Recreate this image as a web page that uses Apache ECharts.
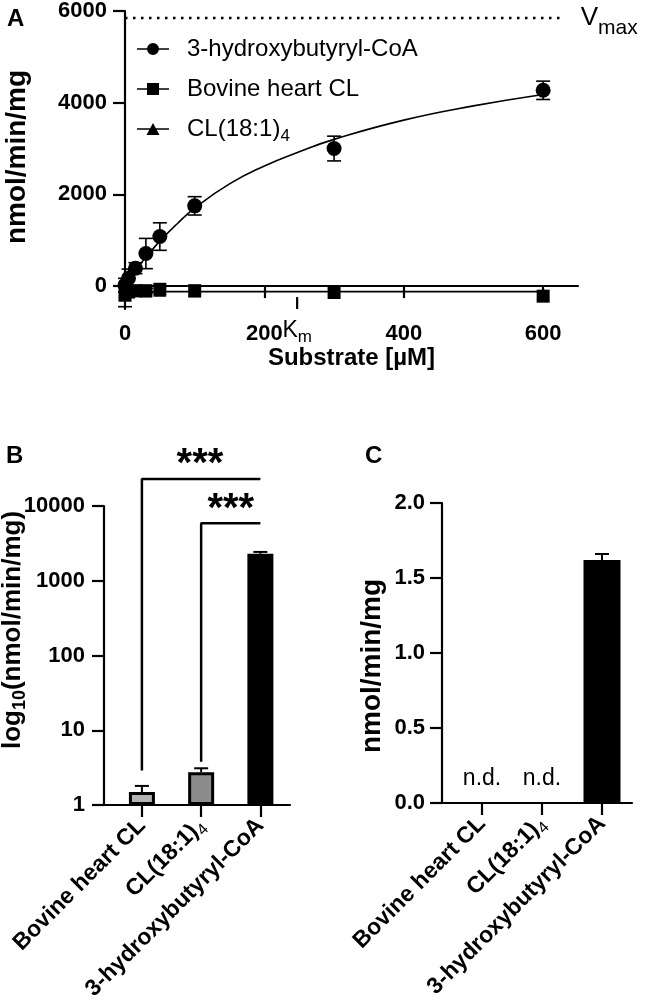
<!DOCTYPE html>
<html><head><meta charset="utf-8">
<script src="https://cdn.jsdelivr.net/npm/echarts@6/dist/echarts.min.js"></script>
<style>html,body{margin:0;padding:0;background:#fff}#c{width:645px;height:1005px}</style>
</head><body><div id="c"></div>
<script>
// ---------- Panel A data ----------
const substrateHB = [0, 5, 15, 30, 50, 100, 300, 600];
const rateHB      = [20, 170, 390, 710, 1080, 1750, 3000, 4270];
const errHB       = [150, 200, 120, 330, 300, 200, 270, 200];
const substrateBH = [0, 5, 15, 30, 50, 100, 300, 600];
const rateBH      = [-200, -130, -100, -100, -70, -100, -130, -220];
const errBH       = [250, 100, 50, 50, 0, 0, 0, 0];
const substrateCL = [0, 5, 15, 30, 50, 100, 300, 600];
const rateCL      = [-120, -100, -100, -110, -90, -110, -140, -170];
const fitHBx = [0, 10, 20, 30, 50, 75, 100, 150, 200, 250, 300, 400, 500, 600];
const fitHBy = [0, 230, 440, 630, 980, 1360, 1700, 2230, 2620, 2930, 3200, 3620, 3930, 4180];
const fitBHx = [0, 600];
const fitBHy = [-120, -120];
const vmaxValue = 5850;
const vmaxEndX = 628;
const kmValue = 247;
const xTicksA = [0, 200, 400, 600];
const yTicksA = [0, 2000, 4000, 6000];
const seriesNamesA = ['3-hydroxybutyryl-CoA', 'Bovine heart CL', 'CL(18:1)4'];

// ---------- Panel B / C data ----------
const categories = ['Bovine heart CL', 'CL(18:1)4', '3-hydroxybutyryl-CoA'];
const catPos = [1, 2, 3];
const logRate = [1.49, 2.75, 2290];
const logErr  = [0.31, 0.35, 140];
const sigBrackets = [ {from: 1, to: 3, low: 2.9, y: 22900}, {from: 2, to: 3, low: 3.8, y: 5900} ];
const sigStars = [ [1.98, 45000], [2.5, 11300] ];
const linRate = [0, 0, 1.62];
const linErr  = [0, 0, 0.04];
const ndPos = [[1, 0.16], [2, 0.16]];

const FONT = 'Liberation Sans, Arial, sans-serif';
const BLACK = '#000';

function catLabel(v) {
  const i = Math.round(v) - 1;
  const name = categories[i];
  if (name === 'CL(18:1)4') return '{b|CL(18:1)}{s|4}';
  return '{b|' + name + '}';
}
const catRich = {
  b: {fontFamily: FONT, fontWeight: 'bold', fontSize: 23, color: BLACK},
  s: {fontFamily: FONT, fontWeight: 'normal', fontSize: 16, color: BLACK, verticalAlign: 'bottom', padding: [14, 0, 0, 0]}
};

function errBothRender(params, api) {
  const x = api.value(0), y = api.value(1), e = api.value(2);
  if (!e) return null;
  const t = api.coord([x, y + e]), b = api.coord([x, y - e]);
  const w = 7, st = {stroke: BLACK, lineWidth: 1.6};
  return {type: 'group', children: [
    {type: 'line', shape: {x1: t[0], y1: t[1], x2: b[0], y2: b[1]}, style: st},
    {type: 'line', shape: {x1: t[0]-w, y1: t[1], x2: t[0]+w, y2: t[1]}, style: st},
    {type: 'line', shape: {x1: b[0]-w, y1: b[1], x2: b[0]+w, y2: b[1]}, style: st}
  ]};
}
function errUpRender(params, api) {
  const x = api.value(0), y = api.value(1), e = api.value(2);
  if (!e) return null;
  const t = api.coord([x, y + e]), b = api.coord([x, y]);
  const w = 7, st = {stroke: BLACK, lineWidth: 2};
  return {type: 'group', children: [
    {type: 'line', shape: {x1: t[0], y1: t[1], x2: b[0], y2: b[1]}, style: st},
    {type: 'line', shape: {x1: t[0]-w, y1: t[1], x2: t[0]+w, y2: t[1]}, style: st}
  ]};
}

const zip = (a, b) => a.map((v, i) => [v, b[i]]);
const zip3 = (a, b, c) => a.map((v, i) => [v, b[i], c[i]]);

const axisLineStyle = {lineStyle: {color: BLACK, width: 2.2}};
const tickStyle = {show: true, length: 12, lineStyle: {color: BLACK, width: 2.2}};
const labelStyle = {fontFamily: FONT, fontWeight: 'bold', fontSize: 22, color: BLACK, formatter: v => String(v)};

const iconCircle = 'path://M0,5.3 L32,5.3 L32,6.7 L0,6.7 Z M16,0 A6,6 0 1,1 16,12 A6,6 0 1,1 16,0 Z';
const iconSquare = 'path://M0,5.3 L32,5.3 L32,6.7 L0,6.7 Z M10,0 L22,0 L22,12 L10,12 Z';
const iconTri = 'path://M0,5.3 L32,5.3 L32,6.7 L0,6.7 Z M16,0 L22.5,12 L9.5,12 Z';

const catBarColors = ['#b3b3b3', '#8c8c8c', '#000000'];
const solid = {color: BLACK, opacity: 1};

function yNameRich(size) {
  return {
    a: {fontFamily: FONT, fontWeight: 'bold', fontSize: size, fill: BLACK, color: BLACK},
    s: {fontFamily: FONT, fontWeight: 'bold', fontSize: Math.round(size * 0.68), fill: BLACK, color: BLACK, verticalAlign: 'bottom', padding: [14, 0, 0, 0]}
  };
}
function yName(text, x, y, size) {
  return {type: 'text', x: x, y: y, rotation: Math.PI / 2, silent: true,
    style: {text: text, rich: yNameRich(size), align: 'center', verticalAlign: 'middle',
            fontFamily: FONT, fontWeight: 'bold', fontSize: size, fill: BLACK}};
}

const option = {
  animation: false,
  backgroundColor: '#fff',
  textStyle: {fontFamily: FONT},
  title: [
    {text: 'A', left: 2, top: 2, textStyle: {fontFamily: FONT, fontWeight: 'bold', fontSize: 24, color: BLACK}},
    {text: 'B', left: 1, top: 439, textStyle: {fontFamily: FONT, fontWeight: 'bold', fontSize: 24, color: BLACK}},
    {text: 'C', left: 360, top: 439, textStyle: {fontFamily: FONT, fontWeight: 'bold', fontSize: 24, color: BLACK}}
  ],
  graphic: [
    yName('{a|nmol/min/mg}', 17, 157, 28),
    yName('{a|log}{s|10}{a|(nmol/min/mg)}', 13, 630, 26),
    yName('{a|nmol/min/mg}', 372, 666, 28)
  ],
  legend: {
    orient: 'vertical', left: 132, top: 32, itemWidth: 32, itemHeight: 12, itemGap: 16,
    data: [
      {name: seriesNamesA[0], icon: iconCircle},
      {name: seriesNamesA[1], icon: iconSquare},
      {name: seriesNamesA[2], icon: iconTri}
    ],
    itemStyle: {color: BLACK, opacity: 1},
    formatter: n => n === 'CL(18:1)4' ? '{a|CL(18:1)}{s|4}' : '{a|' + n + '}',
    textStyle: {padding: [0, 0, 0, 13], rich: {
      a: {fontFamily: FONT, fontSize: 24, color: BLACK},
      s: {fontFamily: FONT, fontSize: 17, color: BLACK, verticalAlign: 'bottom', padding: [15, 0, 0, 0]}
    }},
    selectedMode: false
  },
  grid: [
    {left: 125, top: 10, width: 453, height: 299},
    {left: 104, top: 506, width: 186, height: 299},
    {left: 442, top: 503, width: 190, height: 300}
  ],
  xAxis: [
    {gridIndex: 0, type: 'value', min: 0, max: 650,
     axisLine: axisLineStyle, axisTick: Object.assign({customValues: xTicksA}, tickStyle),
     axisLabel: Object.assign({}, labelStyle, {customValues: xTicksA, margin: 14}), splitLine: {show: false},
     name: 'Substrate [µM]', nameLocation: 'middle', nameGap: 30,
     nameTextStyle: {fontFamily: FONT, fontWeight: 'bold', fontSize: 24, color: BLACK}},
    {gridIndex: 1, type: 'value', min: 0.36, max: 3.5,
     axisLine: axisLineStyle, axisTick: Object.assign({customValues: catPos}, tickStyle),
     axisLabel: {customValues: catPos, rotate: 45, margin: 17, formatter: catLabel, rich: catRich},
     splitLine: {show: false}},
    {gridIndex: 2, type: 'value', min: 0.333, max: 3.5,
     axisLine: axisLineStyle, axisTick: Object.assign({customValues: catPos}, tickStyle),
     axisLabel: {customValues: catPos, rotate: 45, margin: 17, formatter: catLabel, rich: catRich},
     splitLine: {show: false}}
  ],
  yAxis: [
    {gridIndex: 0, type: 'value', min: -500, max: 6000,
     axisLine: axisLineStyle, axisTick: Object.assign({customValues: yTicksA}, tickStyle),
     axisLabel: Object.assign({}, labelStyle, {customValues: yTicksA, margin: 18}), splitLine: {show: false}},
    {gridIndex: 1, type: 'log', logBase: 10, min: 1, max: 10000,
     axisLine: axisLineStyle, axisTick: tickStyle,
     axisLabel: Object.assign({}, labelStyle, {margin: 19, formatter: v => String(Math.round(v))}),
     splitLine: {show: false}, minorTick: {show: false}},
    {gridIndex: 2, type: 'value', min: 0, max: 2, interval: 0.5,
     axisLine: axisLineStyle, axisTick: tickStyle,
     axisLabel: Object.assign({}, labelStyle, {margin: 17, formatter: v => v.toFixed(1)}), splitLine: {show: false}}
  ],
  series: [
    // ---- Panel A ----
    {type: 'line', name: 'vmax', xAxisIndex: 0, yAxisIndex: 0, symbol: 'none', silent: true,
     data: [[0, vmaxValue], [vmaxEndX, vmaxValue]],
     lineStyle: {color: BLACK, width: 2.5, type: [2.5, 5.5]},
     endLabel: {show: true, distance: 18, formatter: '{v|V}{s|max}', rich: {
       v: {fontFamily: FONT, fontSize: 26, color: BLACK},
       s: {fontFamily: FONT, fontSize: 21, color: BLACK, verticalAlign: 'bottom', padding: [20, 0, 0, 0]}
     }}},
    {type: 'line', name: 'kmTick', xAxisIndex: 0, yAxisIndex: 0, symbol: 'none', silent: true, clip: false,
     data: [[kmValue, -500], [kmValue, -240]], lineStyle: {color: BLACK, width: 2.2}},
    {type: 'scatter', name: 'kmLabel', xAxisIndex: 0, yAxisIndex: 0, symbolSize: 0, silent: true, clip: false,
     itemStyle: solid, data: [[kmValue, -500]],
     label: {show: true, position: 'bottom', distance: 6, formatter: '{k|K}{s|m}', rich: {
       k: {fontFamily: FONT, fontSize: 23, color: BLACK},
       s: {fontFamily: FONT, fontSize: 17, color: BLACK, verticalAlign: 'bottom', padding: [14, 0, 0, 0]}
     }}},
    {type: 'line', name: 'fitHB', xAxisIndex: 0, yAxisIndex: 0, symbol: 'none', smooth: true, silent: true,
     data: zip(fitHBx, fitHBy), lineStyle: {color: BLACK, width: 1.6}},
    {type: 'line', name: 'fitBH', xAxisIndex: 0, yAxisIndex: 0, symbol: 'none', silent: true,
     data: zip(fitBHx, fitBHy), lineStyle: {color: BLACK, width: 1.6}},
    {type: 'custom', name: 'errHB', xAxisIndex: 0, yAxisIndex: 0, renderItem: errBothRender, encode: {x: 0, y: 1},
     data: zip3(substrateHB, rateHB, errHB), silent: true},
    {type: 'custom', name: 'errBH', xAxisIndex: 0, yAxisIndex: 0, renderItem: errBothRender, encode: {x: 0, y: 1},
     data: zip3(substrateBH, rateBH, errBH), silent: true},
    {type: 'scatter', name: seriesNamesA[2], xAxisIndex: 0, yAxisIndex: 0, symbol: 'triangle', symbolSize: 13,
     itemStyle: solid, data: zip(substrateCL, rateCL), clip: false},
    {type: 'scatter', name: seriesNamesA[1], xAxisIndex: 0, yAxisIndex: 0, symbol: 'rect', symbolSize: 13,
     itemStyle: solid, data: zip(substrateBH, rateBH), clip: false},
    {type: 'scatter', name: seriesNamesA[0], xAxisIndex: 0, yAxisIndex: 0, symbol: 'circle', symbolSize: 15,
     itemStyle: solid, data: zip(substrateHB, rateHB), clip: false},

    // ---- Panel B ----
    {type: 'bar', name: 'logBars', xAxisIndex: 1, yAxisIndex: 1, barWidth: 26,
     data: catPos.map((p, i) => ({value: [p, logRate[i]], itemStyle: {color: catBarColors[i], borderColor: BLACK, borderWidth: 3}}))},
    {type: 'custom', name: 'logErr', xAxisIndex: 1, yAxisIndex: 1, renderItem: errUpRender, encode: {x: 0, y: 1},
     data: zip3(catPos, logRate, logErr), silent: true, z: 1},
    ...sigBrackets.map(b => ({type: 'line', xAxisIndex: 1, yAxisIndex: 1, symbol: 'none', clip: false, silent: true,
     data: [[b.from, b.low], [b.from, b.y], [b.to, b.y]], lineStyle: {color: BLACK, width: 2.5}})),
    {type: 'scatter', name: 'stars', xAxisIndex: 1, yAxisIndex: 1, symbolSize: 0, clip: false, silent: true,
     itemStyle: solid, data: sigStars,
     label: {show: true, position: 'inside', formatter: '***', offset: [0, 8],
       fontFamily: FONT, fontWeight: 'bold', fontSize: 40, color: BLACK}},

    // ---- Panel C ----
    {type: 'bar', name: 'linBars', xAxisIndex: 2, yAxisIndex: 2, barWidth: 37,
     data: catPos.map((p, i) => ({value: [p, linRate[i]], itemStyle: {color: catBarColors[2]}}))},
    {type: 'custom', name: 'linErr', xAxisIndex: 2, yAxisIndex: 2, renderItem: errUpRender, encode: {x: 0, y: 1},
     data: zip3(catPos, linRate, linErr), silent: true, z: 1},
    {type: 'scatter', name: 'nd', xAxisIndex: 2, yAxisIndex: 2, symbolSize: 0, silent: true,
     itemStyle: solid, data: ndPos,
     label: {show: true, position: 'inside', formatter: 'n.d.', fontFamily: FONT, fontSize: 23, color: BLACK}}
  ]
};

const chart = echarts.init(document.getElementById('c'), null, {renderer: 'canvas'});
chart.setOption(option);
</script>
</body></html>
